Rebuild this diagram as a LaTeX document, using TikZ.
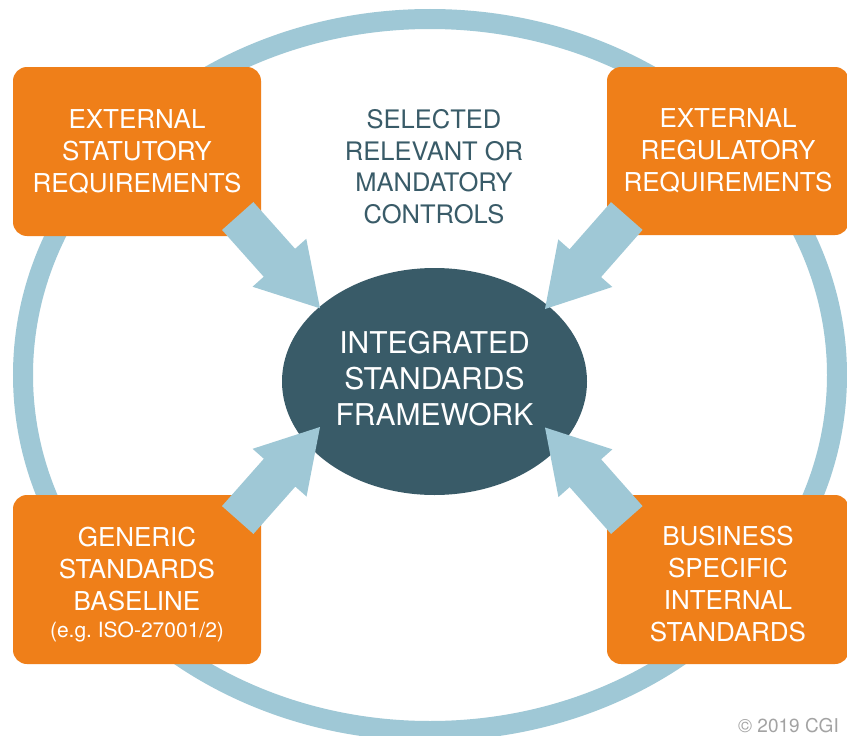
\documentclass[tikz,border=0pt]{standalone}
\usepackage{fontspec}
\setmainfont{TeX Gyre Heros}
\usetikzlibrary{calc,shapes.geometric}
\frenchspacing

\definecolor{ringblue}{HTML}{9FC8D6}
\definecolor{cgiorange}{HTML}{EF7F19}
\definecolor{slate}{HTML}{395B68}
\definecolor{notegray}{HTML}{A3A3A3}

% Fat block arrow from #1 (tail centre) to #2 (tip)
\newcommand\blockarr[2]{%
  \coordinate (ba-h) at ($(#2)!61pt!(#1)$);
  \fill[flow] ($(#1)!21pt!90:(#2)$) -- ($(ba-h)!21pt!90:(#2)$)
    -- ($(ba-h)!36pt!90:(#2)$) -- (#2) -- ($(ba-h)!36pt!-90:(#2)$)
    -- ($(ba-h)!21pt!-90:(#2)$) -- ($(#1)!21pt!-90:(#2)$) -- cycle;}

\begin{document}
\begin{tikzpicture}[x=1pt,y=-1pt,
  ring/.style={draw=ringblue, line width=20pt},
  flow/.style={fill=ringblue},
  obox/.style={rectangle, fill=cgiorange, rounded corners=14pt, inner sep=0pt},
  hub/.style={ellipse, fill=slate, inner sep=0pt, minimum width=305pt, minimum height=227pt},
  boxtext/.style={text=white, align=center, inner sep=0pt, font=\fontsize{26}{32}\selectfont},
  hubtext/.style={text=white, align=center, inner sep=0pt, font=\fontsize{30}{36}\selectfont},
  midtext/.style={text=slate, align=center, inner sep=0pt, font=\fontsize{25.5}{31.5}\selectfont},
  note/.style={text=notegray, inner sep=0pt, anchor=base west, font=\fontsize{19}{22}\selectfont}]

\useasboundingbox (0,0) rectangle (847,736);
\clip (0,0) rectangle (847,736);
\fill[white] (0,0) rectangle (847,736);

% outer ring
\draw[ring] (430,375) ellipse [x radius=407pt, y radius=356pt];

% source boxes
\node[obox, minimum width=248pt, minimum height=169pt] (stat) at (137,151.5) {};
\node[obox, minimum width=242pt, minimum height=168pt] (regu) at (728,151) {};
\node[obox, minimum width=248pt, minimum height=169pt] (gene) at (137,579.5) {};
\node[obox, minimum width=242pt, minimum height=169pt] (busi) at (728,579.5) {};

\node[boxtext] (statl) at (stat.center) {EXTERNAL\\STATUTORY\\REQUIREMENTS};
\node[boxtext] (regul) at (regu.center) {EXTERNAL\\REGULATORY\\REQUIREMENTS};
\node[boxtext] (genel) at ($(gene.center)+(0,4.7)$)
  {GENERIC\\STANDARDS\\BASELINE\\[-5pt]{\fontsize{21}{25}\selectfont(e.g. ISO-27001/2)}};
\node[boxtext] (busil) at ($(busi.center)+(0,5)$) {BUSINESS\\SPECIFIC\\INTERNAL\\STANDARDS};

% central framework
\node[hub] (isf) at (434.5,381.5) {};
\node[hubtext] (isfl) at ($(isf.center)+(0,-2.5)$) {INTEGRATED\\STANDARDS\\FRAMEWORK};

% caption between the top boxes
\node[midtext] (sel) at (434,166.5) {SELECTED\\RELEVANT OR\\MANDATORY\\CONTROLS};

% arrows into the framework
\coordinate (a1s) at ($(stat.south east)+(-23.5,-20.2)$);
\coordinate (a2s) at ($(regu.south west)+(20,-19.2)$);
\coordinate (a3s) at ($(gene.north east)+(-23.5,25.2)$);
\coordinate (a4s) at ($(busi.north west)+(20,25.2)$);
\coordinate (a1t) at ($(isf.center)+(-114.5,-73.2)$);
\coordinate (a2t) at ($(isf.center)+(110.5,-72.5)$);
\coordinate (a3t) at ($(isf.center)+(-114.5,45.5)$);
\coordinate (a4t) at ($(isf.center)+(110.5,46)$);
\blockarr{a1s}{a1t}
\blockarr{a2s}{a2t}
\blockarr{a3s}{a3t}
\blockarr{a4s}{a4t}

\node[note] (copy) at (738,732) {© 2019 CGI};
\end{tikzpicture}
\end{document}
